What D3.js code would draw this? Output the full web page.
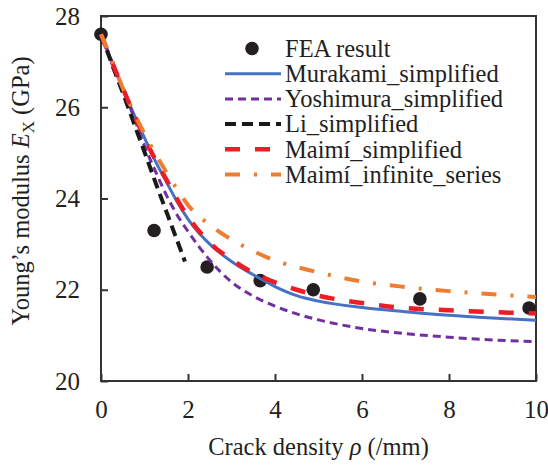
<!DOCTYPE html>
<html>
<head>
<meta charset="utf-8">
<script src="https://cdn.jsdelivr.net/npm/d3@7"></script>
</head>
<body style="margin:0">
<script>
var svgWidth = 548;
var svgHeight = 465;
var serif = "'Liberation Serif', 'Times New Roman', Tinos, serif";

// plot frame
var margin = { top: 16, right: 12, bottom: 84, left: 101 };
var width = svgWidth - margin.left - margin.right;
var height = svgHeight - margin.top - margin.bottom;

// FEA points
var feaRho = [0, 1.22, 2.44, 3.66, 4.88, 7.33, 9.84];
var feaE = [27.6, 23.3, 22.5, 22.2, 22.0, 21.8, 21.6];

// model curves
var rho = [0, 0.25, 0.5, 0.75, 1, 1.25, 1.5, 1.75, 2, 2.5, 3, 3.5, 4, 4.5, 5, 6, 7, 8, 9, 10];
var murakami = [27.6, 27.0, 26.42, 25.86, 25.33, 24.82, 24.37, 23.93, 23.55, 23.0, 22.62, 22.33, 22.07, 21.87, 21.75, 21.61, 21.52, 21.44, 21.38, 21.33];
var yoshimura = [27.6, 27.0, 26.4, 25.8, 25.15, 24.6, 24.08, 23.64, 23.28, 22.65, 22.17, 21.86, 21.64, 21.47, 21.34, 21.15, 21.04, 20.96, 20.9, 20.86];
var maimiSimpl = [27.6, 27.0, 26.42, 25.86, 25.33, 24.85, 24.42, 23.98, 23.6, 23.03, 22.66, 22.37, 22.16, 22.0, 21.87, 21.71, 21.6, 21.55, 21.51, 21.48];
var maimiInf = [27.6, 27.03, 26.42, 25.9, 25.42, 24.98, 24.58, 24.2, 23.86, 23.42, 23.1, 22.85, 22.64, 22.5, 22.38, 22.18, 22.06, 21.97, 21.9, 21.84];

var rhoLi = [0, 0.25, 0.5, 0.75, 1, 1.25, 1.5, 1.75, 1.93];
var li = [27.6, 26.95, 26.32, 25.67, 25.02, 24.36, 23.72, 23.08, 22.62];

var xTicks = [0, 2, 4, 6, 8, 10];
var yTicks = [20, 22, 24, 26, 28];

var series = [
  { name: "Murakami_simplified", x: rho, y: murakami, color: "#4472c4", w: 3, dash: null },
  { name: "Yoshimura_simplified", x: rho, y: yoshimura, color: "#7030a0", w: 3, dash: "8,5" },
  { name: "Li_simplified", x: rhoLi, y: li, color: "#1a1a1a", w: 4, dash: "11,6" },
  { name: "Maimí_simplified", x: rho, y: maimiSimpl, color: "#ee1c25", w: 4.5, dash: "15,15" },
  { name: "Maimí_infinite_series", x: rho, y: maimiInf, color: "#ed7d31", w: 4, dash: "15,14,3,14" }
];

var svg = d3.select("body").append("svg")
  .attr("width", svgWidth)
  .attr("height", svgHeight)
  .attr("font-family", serif)
  .style("display", "block");

var chartGroup = svg.append("g")
  .attr("transform", `translate(${margin.left}, ${margin.top})`);

var xScale = d3.scaleLinear().domain([0, 10]).range([0, width]);
var yScale = d3.scaleLinear().domain([20, 28]).range([height, 0]);

// axes with inward ticks
var xAxis = chartGroup.append("g")
  .attr("transform", `translate(0, ${height})`)
  .call(d3.axisBottom(xScale).tickValues(xTicks).tickSizeInner(-7).tickSizeOuter(0).tickPadding(19));
var yAxis = chartGroup.append("g")
  .call(d3.axisLeft(yScale).tickValues(yTicks).tickSizeInner(-7).tickSizeOuter(0).tickPadding(21));

[xAxis, yAxis].forEach(function(ax) {
  ax.attr("font-family", serif).attr("font-size", 25);
  ax.select(".domain").remove();
  ax.selectAll(".tick line").attr("stroke", "#333").attr("stroke-width", 2);
  ax.selectAll(".tick text")
    .attr("fill", "#231f20")
    .attr("font-family", serif)
    .style("font-family", serif);
});

// frame
chartGroup.append("rect")
  .attr("x", xScale(0))
  .attr("y", yScale(28))
  .attr("width", xScale(10) - xScale(0))
  .attr("height", yScale(20) - yScale(28))
  .attr("fill", "none")
  .attr("stroke", "#333")
  .attr("stroke-width", 2);

// FEA dots
chartGroup.selectAll("circle.fea")
  .data(feaRho.map(function(r, i) { return { x: r, y: feaE[i] }; }))
  .enter()
  .append("circle")
  .attr("class", "fea")
  .attr("cx", d => xScale(d.x))
  .attr("cy", d => yScale(d.y))
  .attr("r", 6.8)
  .attr("fill", "#231f20");

var line = d3.line()
  .x(d => xScale(d[0]))
  .y(d => yScale(d[1]))
  .curve(d3.curveMonotoneX);

series.forEach(function(s) {
  chartGroup.append("path")
    .datum(s.x.map(function(v, i) { return [v, s.y[i]]; }))
    .attr("d", line)
    .attr("fill", "none")
    .attr("stroke", s.color)
    .attr("stroke-width", s.w)
    .attr("stroke-dasharray", s.dash);
});

// legend
var legend = svg.append("g");
var rowY = [48.5, 73.7, 98.9, 124.1, 149.3, 174.5];

legend.append("circle")
  .attr("cx", 252)
  .attr("cy", rowY[0])
  .attr("r", 6.8)
  .attr("fill", "#231f20");
legend.append("text")
  .attr("x", 285)
  .attr("y", rowY[0] + 8.3)
  .attr("fill", "#231f20")
  .attr("font-family", serif)
  .style("font-family", serif)
  .style("font-size", "24.5px")
  .text("FEA result");

series.forEach(function(s, i) {
  var y = rowY[i + 1];
  legend.append("line")
    .attr("x1", 225).attr("x2", 281)
    .attr("y1", y).attr("y2", y)
    .attr("stroke", s.color)
    .attr("stroke-width", s.w)
    .attr("stroke-dasharray", s.dash);
  legend.append("text")
    .attr("x", 285)
    .attr("y", y + 8.3)
    .attr("fill", "#231f20")
    .attr("font-family", serif)
    .style("font-family", serif)
    .style("font-size", "24.5px")
    .text(s.name);
});

// axis titles
var xTitle = svg.append("text")
  .attr("x", margin.left + width / 2)
  .attr("y", 455)
  .attr("text-anchor", "middle")
  .attr("fill", "#231f20")
  .attr("font-family", serif)
  .style("font-family", serif)
  .style("font-size", "24.5px");
xTitle.append("tspan").text("Crack density ");
xTitle.append("tspan").attr("font-style", "italic").text("ρ");
xTitle.append("tspan").text(" (/mm)");

var yTitle = svg.append("text")
  .attr("transform", "translate(29, 191) rotate(-90)")
  .attr("text-anchor", "middle")
  .attr("fill", "#231f20")
  .attr("font-family", serif)
  .style("font-family", serif)
  .style("font-size", "24.5px");
yTitle.append("tspan").text("Young’s modulus ");
yTitle.append("tspan").attr("font-style", "italic").text("E");
yTitle.append("tspan").attr("dy", 5).style("font-size", "17px").text("X");
yTitle.append("tspan").attr("dy", -5).text(" (GPa)");
</script>
</body>
</html>
